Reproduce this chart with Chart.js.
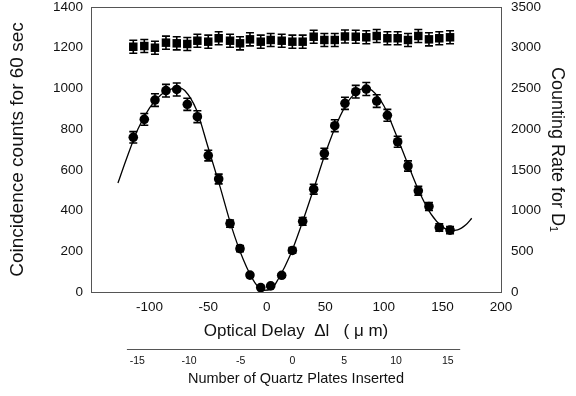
<!DOCTYPE html>
<html>
<head>
<meta charset="utf-8">
<script src="https://cdn.jsdelivr.net/npm/chart.js@4.4.0/dist/chart.umd.min.js"></script>
<style>
  html, body { margin: 0; padding: 0; background: #fff; }
  #wrap { width: 576px; height: 396px; }
</style>
</head>
<body>
<div id="wrap"><canvas id="grafico"></canvas></div>
<script>
// Retardo óptico de cada medida (µm)
const delays = [-113.9, -104.5, -95.4, -86.0, -76.8, -67.8, -59.2, -49.9, -41.0, -31.3, -22.8,
  -14.3, -5.1, 3.4, 12.8, 21.9, 30.7, 40.1, 49.2, 58.1, 66.8, 76.0, 85.0, 93.9, 103.0,
  111.8, 120.6, 129.4, 138.5, 147.3, 156.5];

// Coincidencias en 60 s (eje izquierdo)
const counts = [760, 848, 943, 989, 995, 922, 861, 670, 555, 336, 213,
  83, 22, 30, 82, 204, 347, 505, 680, 817, 927, 984, 997, 938, 868,
  738, 619, 497, 420, 317, 304];
const countErr = [28, 29, 31, 31, 32, 30, 29, 26, 24, 18, 15,
  9, 5, 5, 9, 14, 19, 24, 26, 29, 30, 31, 32, 31, 29,
  27, 25, 22, 20, 18, 17];

// Tasa de conteo de D1 (eje derecho)
const rates = [3012, 3021, 3000, 3062, 3054, 3046, 3086, 3074, 3116, 3086, 3054,
  3103, 3074, 3095, 3086, 3074, 3074, 3135, 3095, 3095, 3138, 3135, 3128, 3144, 3116,
  3116, 3095, 3144, 3103, 3116, 3128];
const rateErr = [80, 80, 80, 80, 80, 80, 80, 80, 80, 80, 80,
  80, 80, 80, 80, 80, 80, 80, 80, 80, 80, 80, 80, 80, 80,
  80, 80, 80, 80, 80, 80];

// Curva ajustada
const fitDelay = [-127, -120, -110, -100, -90, -80, -75, -70, -60, -50, -40, -30, -20, -10, -3, 4,
  10, 20, 30, 40, 50, 60, 70, 80, 85, 90, 100, 110, 120, 130, 140, 150, 157, 163, 170, 175];
const fitCounts = [535, 650, 800, 905, 970, 1000, 1003, 990, 895, 710, 520, 320, 160, 45, 8, 15,
  65, 180, 335, 505, 680, 830, 940, 995, 1002, 990, 915, 780, 635, 495, 385, 320, 302, 305, 330, 362];

const delayTicks = [-100, -50, 0, 50, 100, 150, 200];
const plateTicks = [-15, -10, -5, 0, 5, 10, 15];

Chart.defaults.font.family = '"Liberation Sans", Arial, sans-serif';
Chart.defaults.color = '#111';

const toPoints = (xs, ys) => xs.map((x, i) => ({ x: x, y: ys[i] }));
const plain = v => String(v);

// Barras de error dibujadas con las escalas del gráfico
const barrasError = {
  id: 'barrasError',
  afterDatasetsDraw(chart) {
    const ctx = chart.ctx;
    const sx = chart.scales.x;
    ctx.save();
    ctx.strokeStyle = '#000';
    ctx.lineWidth = 1.6;
    chart.data.datasets.forEach(ds => {
      if (!ds.errors) return;
      const sy = chart.scales[ds.yAxisID];
      ds.data.forEach((p, j) => {
        const px = sx.getPixelForValue(p.x);
        const top = sy.getPixelForValue(p.y + ds.errors[j]);
        const bot = sy.getPixelForValue(p.y - ds.errors[j]);
        ctx.beginPath();
        ctx.moveTo(px, top); ctx.lineTo(px, bot);
        ctx.moveTo(px - 4, top); ctx.lineTo(px + 4, top);
        ctx.moveTo(px - 4, bot); ctx.lineTo(px + 4, bot);
        ctx.stroke();
      });
    });
    ctx.restore();
  }
};

// Borde superior y línea del eje de placas
const marcos = {
  id: 'marcos',
  afterDraw(chart) {
    const { ctx, chartArea: a, scales } = chart;
    ctx.save();
    ctx.strokeStyle = '#555';
    ctx.lineWidth = 1;
    ctx.beginPath();
    ctx.moveTo(a.left, a.top + 0.5);
    ctx.lineTo(a.right, a.top + 0.5);
    ctx.stroke();
    const p = scales.x2;
    const yy = p.top + 7.5;
    ctx.beginPath();
    ctx.moveTo(p.getPixelForValue(-16), yy);
    ctx.lineTo(p.getPixelForValue(16.2), yy);
    ctx.stroke();
    ctx.restore();
  }
};

const fijarY = ancho => s => { s.width = ancho; s.paddingTop = 7; s.paddingBottom = 0; };

new Chart(document.getElementById('grafico'), {
  type: 'scatter',
  data: {
    datasets: [
      {
        label: 'Counting rate D1',
        data: toPoints(delays, rates),
        errors: rateErr,
        yAxisID: 'y2',
        pointStyle: 'rect',
        pointRadius: 6,
        backgroundColor: '#000',
        borderColor: '#000',
        borderWidth: 0,
        order: 1
      },
      {
        label: 'Coincidence',
        data: toPoints(delays, counts),
        errors: countErr,
        yAxisID: 'y',
        pointStyle: 'circle',
        pointRadius: 4.8,
        backgroundColor: '#000',
        borderColor: '#000',
        borderWidth: 0,
        order: 2
      },
      {
        label: 'Fit',
        data: toPoints(fitDelay, fitCounts),
        yAxisID: 'y',
        showLine: true,
        pointRadius: 0,
        borderColor: '#000',
        borderWidth: 1.3,
        cubicInterpolationMode: 'monotone',
        order: 3
      }
    ]
  },
  options: {
    responsive: true,
    maintainAspectRatio: false,
    animation: false,
    layout: { padding: 0 },
    plugins: { legend: { display: false }, tooltip: { enabled: false } },
    scales: {
      x: {
        type: 'linear', position: 'bottom', min: -150, max: 200,
        afterBuildTicks: s => { s.ticks = delayTicks.map(v => ({ value: v })); },
        afterFit: s => { s.height = 50; },
        grid: { display: false, drawTicks: false },
        border: { display: true, color: '#555' },
        ticks: { padding: 7, autoSkip: false, maxRotation: 0, font: { size: 13.5 }, callback: plain },
        title: { display: true, text: 'Optical Delay  Δl   ( μ m)', font: { size: 17 }, padding: { top: 0, bottom: 0 } }
      },
      x2: {
        type: 'linear', position: 'bottom', min: -19.47, max: 20.14,
        afterBuildTicks: s => { s.ticks = plateTicks.map(v => ({ value: v })); },
        afterFit: s => { s.height = 54; },
        grid: { display: false, drawTicks: false },
        border: { display: false },
        ticks: { padding: 13, autoSkip: false, maxRotation: 0, font: { size: 10.5 }, callback: plain },
        title: { display: true, text: 'Number of Quartz Plates Inserted', font: { size: 14.5 }, padding: { top: 0, bottom: 8 } }
      },
      y: {
        position: 'left', min: 0, max: 1400,
        afterFit: fijarY(91),
        grid: { display: false, drawTicks: false },
        border: { display: true, color: '#555' },
        ticks: { stepSize: 200, padding: 8, font: { size: 13.5 }, callback: plain },
        title: { display: true, text: 'Coincidence counts for 60 sec', font: { size: 19 }, padding: { top: 6, bottom: 0 } }
      },
      y2: {
        position: 'right', min: 0, max: 3500,
        afterFit: fijarY(75),
        grid: { display: false, drawTicks: false },
        border: { display: true, color: '#555' },
        ticks: { stepSize: 500, padding: 10, font: { size: 13.5 }, callback: plain },
        title: { display: true, text: 'Counting Rate for D₁', font: { size: 18 }, padding: { top: 8, bottom: 0 } }
      }
    }
  },
  plugins: [barrasError, marcos]
});
</script>
</body>
</html>
